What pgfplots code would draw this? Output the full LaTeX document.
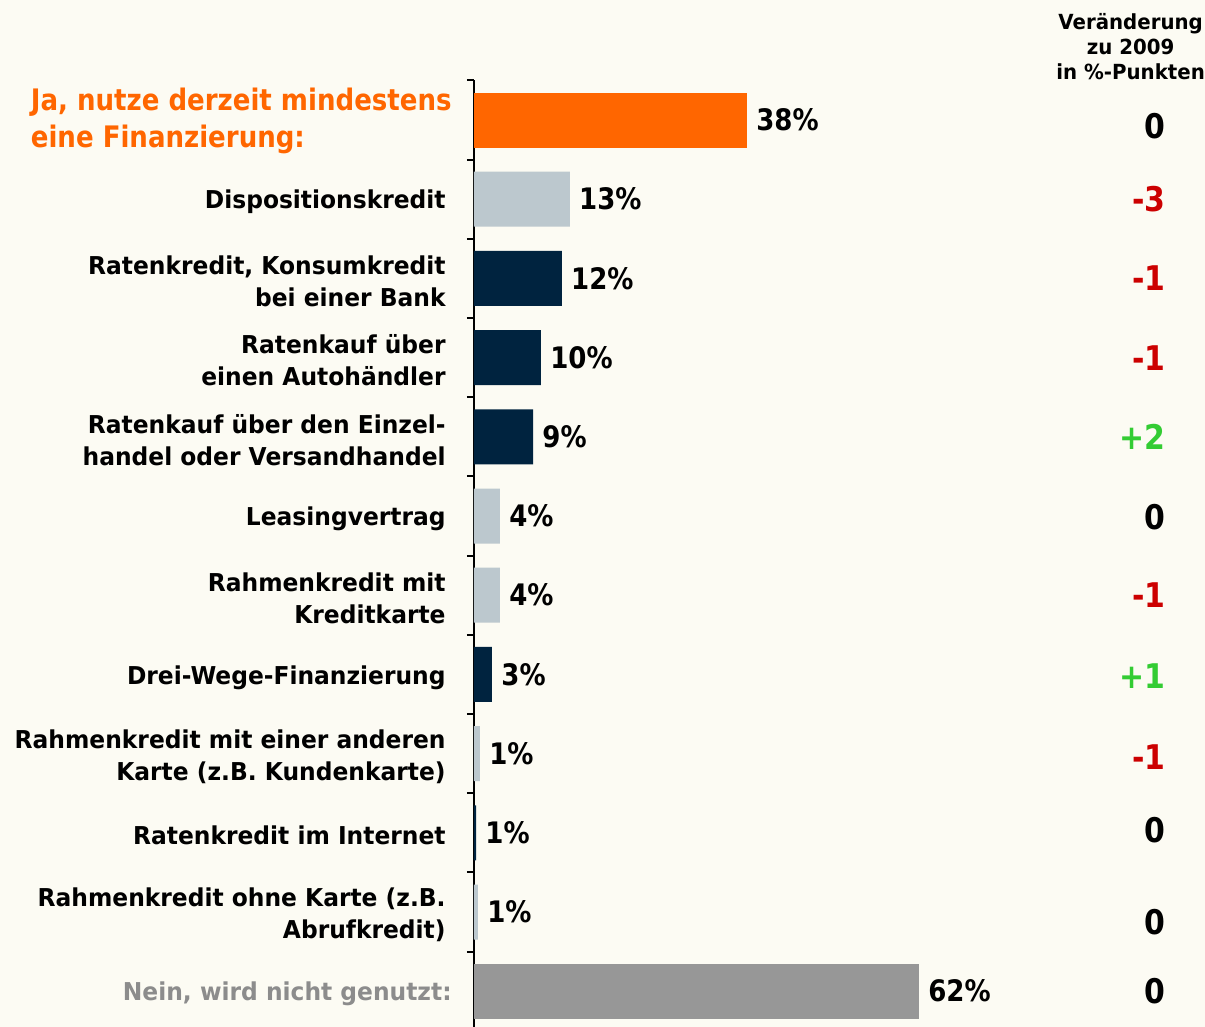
\documentclass[border=0pt]{standalone}
\usepackage{fontspec}
\setmainfont{DejaVu Sans}
\newfontfamily\bigfont{DejaVu Sans}[FakeStretch=0.88]
\newfontfamily\lblfont{DejaVu Sans}[FakeStretch=0.95]
\usepackage{pgfplots}
\pgfplotsset{compat=1.18}
\usepackage{xcolor}
\definecolor{bgcol}{HTML}{FCFBF3}
\definecolor{corange}{HTML}{FF6600}
\definecolor{clight}{HTML}{BCC8CE}
\definecolor{cnavy}{HTML}{00233F}
\definecolor{cgray}{HTML}{979797}
\definecolor{cnein}{HTML}{8C8C8C}
\definecolor{cred}{HTML}{CC0000}
\definecolor{cgreen}{HTML}{33CC33}

\begin{document}
\begin{tikzpicture}
% 1 px of the reference = 0.5pt; origin = bar axis at the first bar
\fill[bgcol] (-237pt,-453.5pt) rectangle (365.5pt,60pt);
\begin{axis}[
  at={(0,0)}, anchor=origin,
  x=3.6pt, y=39.6pt, y dir=reverse,
  xmin=0, xmax=100, ymin=-0.5, ymax=11.45,
  axis x line=none, axis y line=left,
  axis line style={-, line width=1pt, black},
  ytick={0,...,11},
  yticklabels={
    {\raisebox{-1.5pt}{\begin{tabular}{@{}l@{}}\color{corange}\bigfont\bfseries\fontsize{14.8}{17}\selectfont Ja, nutze derzeit mindestens\\[2.5pt]\color{corange}\bigfont\bfseries\fontsize{14.8}{17}\selectfont eine Finanzierung:\end{tabular}}\hspace*{-3pt}},
    Dispositionskredit,
    {Ratenkredit, Konsumkredit\\bei einer Bank},
    {Ratenkauf über\\einen Autohändler},
    {Ratenkauf über den Einzel-\\handel oder Versandhandel},
    Leasingvertrag,
    {Rahmenkredit mit\\Kreditkarte},
    Drei-Wege-Finanzierung,
    {Rahmenkredit mit einer anderen\\Karte (z.B. Kundenkarte)},
    Ratenkredit im Internet,
    {Rahmenkredit ohne Karte (z.B.\\Abrufkredit)},
    {\color{cnein}Nein, wird nicht genutzt:\hspace*{-3pt}}},
  major tick length=0pt,
  minor ytick={-0.5,0.5,...,10.5},
  minor tick length=3.5pt,
  tick align=outside, ytick pos=left,
  minor tick style={line width=1pt, black},
  yticklabel style={font=\lblfont\bfseries\fontsize{12.3}{16}\selectfont, align=right,
                    anchor=east, inner sep=0pt, xshift=-14pt, yshift=-1.5pt},
  clip=false,
]
\pgfplotsset{
  mybar/.style={xbar, bar width=27.5pt, bar shift=0pt, draw=none, fill=#1,
    point meta=explicit symbolic,
    nodes near coords={\pgfplotspointmeta\%},
    nodes near coords style={anchor=west, inner sep=0pt, xshift=4.5pt,
      text=black, font=\bigfont\bfseries\fontsize{14.8}{16}\selectfont}}}
\addplot[mybar=corange] coordinates {(37.9,0) [38]};
\addplot[mybar=clight] coordinates {(13.3,1) [13] (3.6,5) [4] (3.6,6) [4]
  (0.83,8) [1] (0.55,10) [1]};
\addplot[mybar=cnavy] coordinates {(12.2,2) [12] (9.3,3) [10] (8.2,4) [9]
  (2.5,7) [3] (0.28,9) [1]};
\addplot[mybar=cgray] coordinates {(61.8,11) [62]};
% change versus 2009
\addplot[draw=none, mark=none, point meta=explicit symbolic, nodes near coords,
  nodes near coords style={anchor=east, inner sep=0pt, text=black,
    font=\bigfont\bfseries\fontsize{17}{18}\selectfont}]
  coordinates {
  (96.1,0.08) [0]
  (96.1,1) [\textcolor{cred}{-3}]
  (96.1,2) [\textcolor{cred}{-1}]
  (96.1,3) [\textcolor{cred}{-1}]
  (96.1,4) [\textcolor{cgreen}{+2}]
  (96.1,5.02) [0]
  (96.1,6) [\textcolor{cred}{-1}]
  (96.1,7.02) [\textcolor{cgreen}{+1}]
  (96.1,8.05) [\textcolor{cred}{-1}]
  (96.1,8.96) [0]
  (96.1,10.13) [0]
  (96.1,11) [0]};
\node[font=\lblfont\bfseries\fontsize{10.4}{12.5}\selectfont, align=center]
  at (axis cs:91.2,-0.93) {Veränderung\\zu 2009\\in \%-Punkten};
\end{axis}
\pgfresetboundingbox
\path[use as bounding box] (-237pt,-453.5pt) rectangle (365.5pt,60pt);
\end{tikzpicture}
\end{document}
